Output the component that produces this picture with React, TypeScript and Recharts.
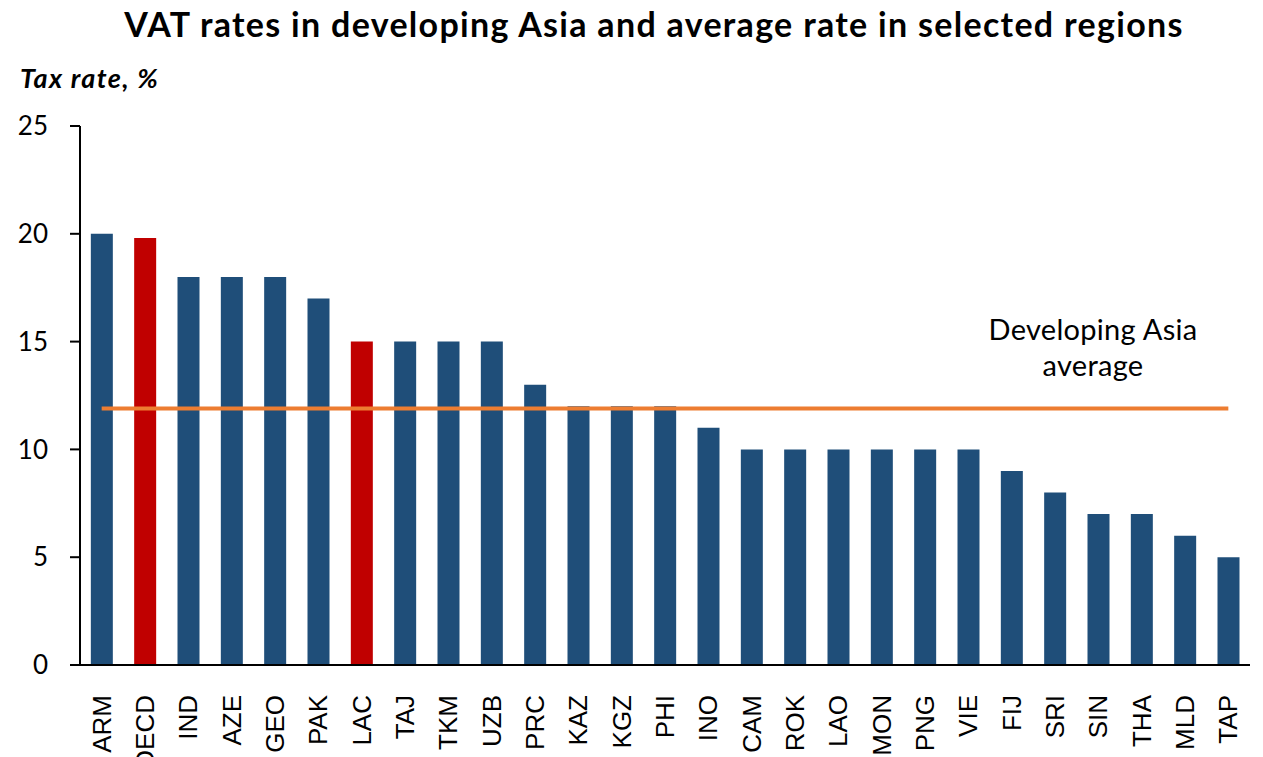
import {
  Bar,
  BarChart,
  Cell,
  ReferenceLine,
  XAxis,
  YAxis,
} from "recharts";

const economies = [
  "ARM", "OECD", "IND", "AZE", "GEO", "PAK", "LAC", "TAJ", "TKM",
  "UZB", "PRC", "KAZ", "KGZ", "PHI", "INO", "CAM", "ROK", "LAO",
  "MON", "PNG", "VIE", "FIJ", "SRI", "SIN", "THA", "MLD", "TAP",
];
const vatRates = [
  20, 19.8, 18, 18, 18, 17, 15, 15, 15,
  15, 13, 12, 12, 12, 11, 10, 10, 10,
  10, 10, 10, 9, 8, 7, 7, 6, 5,
];
// regional averages are drawn in red
const regionCodes = ["OECD", "LAC"];
const asiaAverage = 11.9;
const yTicks = [0, 5, 10, 15, 20, 25];

const data = economies.map((code, i) => ({ code, rate: vatRates[i] }));

const BLUE = "#1F4E79";
const RED = "#C00000";
const ORANGE = "#ED7D31";

function XTick({ x, y, payload }: any) {
  return (
    <text
      x={x}
      y={y + 22}
      transform={`rotate(-90 ${x} ${y + 22})`}
      textAnchor="end"
      dominantBaseline="central"
      fontFamily="Liberation Sans, Arial, sans-serif"
      fontSize={26}
      fill="#000"
    >
      {payload.value}
    </text>
  );
}

export default function App() {
  return (
    <div
      style={{
        position: "absolute",
        left: 0,
        top: 0,
        width: 1263,
        height: 757,
        background: "#fff",
        overflow: "hidden",
        fontFamily: "Lato, 'Open Sans', sans-serif",
      }}
    >
      <div
        style={{
          position: "absolute",
          left: 0,
          top: 3,
          width: 1308,
          textAlign: "center",
          fontWeight: 700,
          fontSize: 34,
          letterSpacing: 1.3,
          color: "#000",
        }}
      >
        VAT rates in developing Asia and average rate in selected regions
      </div>
      <div
        style={{
          position: "absolute",
          left: 20,
          top: 61,
          fontWeight: 700,
          fontStyle: "italic",
          fontSize: 27,
          letterSpacing: 1.4,
          color: "#000",
        }}
      >
        Tax rate, %
      </div>
      <BarChart
        width={1263}
        height={757}
        data={data}
        margin={{ top: 126, right: 13, bottom: 12, left: 0 }}
        barCategoryGap="25%"
      >
        <XAxis
          dataKey="code"
          interval={0}
          tickLine={false}
          axisLine={{ stroke: "#000", strokeWidth: 2 }}
          height={80}
          tick={<XTick />}
        />
        <YAxis
          width={80}
          domain={[0, 25]}
          ticks={yTicks}
          interval={0}
          tickSize={10}
          tickMargin={22}
          tickLine={{ stroke: "#000", strokeWidth: 2 }}
          axisLine={{ stroke: "#000", strokeWidth: 2 }}
          tick={{ fill: "#000", fontSize: 26, fontFamily: "Lato, sans-serif" }}
        />
        <Bar dataKey="rate" isAnimationActive={false}>
          {data.map((d) => (
            <Cell
              key={d.code}
              fill={regionCodes.includes(d.code) ? RED : BLUE}
            />
          ))}
        </Bar>
        <ReferenceLine
          segment={[
            { x: economies[0], y: asiaAverage },
            { x: economies[economies.length - 1], y: asiaAverage },
          ]}
          stroke={ORANGE}
          strokeWidth={4}
          ifOverflow="extendDomain"
        />
      </BarChart>
      <div
        style={{
          position: "absolute",
          left: 950,
          top: 311,
          width: 286,
          textAlign: "center",
          fontSize: 29,
          letterSpacing: 0.3,
          lineHeight: "36px",
          color: "#000",
        }}
      >
        Developing Asia
        <br />
        average
      </div>
    </div>
  );
}
